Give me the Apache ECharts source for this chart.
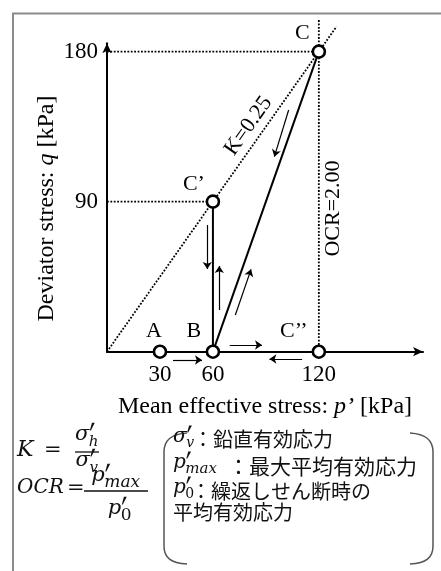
<!DOCTYPE html>
<html><head><meta charset="utf-8">
<script src="https://cdn.jsdelivr.net/npm/echarts@6/dist/echarts.min.js"></script>
<style>html,body{margin:0;padding:0;background:#fff}#c{width:441px;height:571px}</style>
</head><body><div id="c"></div>
<script>
// ---------------- data ----------------
const xTickValues = [30, 60, 120];
const yTickValues = [90, 180];
const pointNames = ['A', 'B', 'C\u2019\u2019', 'C\u2019', 'C'];
const pointP = [30, 60, 120, 60, 120];
const pointQ = [0, 0, 0, 90, 180];
const pathBCprimeP = [60, 60];
const pathBCprimeQ = [0, 90];
const pathBCP = [60, 120];
const pathBCQ = [0, 180];
const kLineP = [0, 130];
const kLineQ = [0, 195];
const ocrLineP = [120, 120];
const ocrLineQ = [0, 199];
const guide180P = [0, 120];
const guide180Q = [180, 180];
const guide90P = [0, 60];
const guide90Q = [90, 90];
const arrowFromP = [56.8, 63.6, 72.7, 102.9, 37.4, 69.5, 110.5];
const arrowFromQ = [76, 25, 22, 145, -5, 4, -4.4];
const arrowToP = [56.8, 63.6, 81.6, 94.8, 53.8, 87.8, 92];
const arrowToQ = [49.6, 51.4, 49.4, 117, -5, 4, -4.4];
const noteTexts = ['K=0.25', 'OCR=2.00'];
const noteP = [80.1, 128.2];
const noteQ = [135.4, 85.9];

// ---------------- styles ----------------
const SERIF = '"Liberation Serif", "Times New Roman", serif';
const MATH = '"DejaVu Serif", serif';
const CJK = '"Noto Sans CJK JP", sans-serif';
const labelOffsets = { 'A': [-6, -20], 'B': [-19, -20], 'C\u2019\u2019': [-25, -20], 'C\u2019': [-19, -17], 'C': [-16.5, -18.5] };
const noteRotate = [54.8, 90];
const dotted = { color: '#000', width: 1.8, type: [1.8, 1.6] };

const zip = (a, b) => a.map((v, i) => [v, b[i]]);

const chart = echarts.init(document.getElementById('c'), null, { renderer: 'canvas' });

// text measuring for the formula block
const mctx = document.createElement('canvas').getContext('2d');
function tw(text, font) { mctx.font = font; return mctx.measureText(text).width; }

function primeMark(xb, yTop, h) {
  const s = h * 0.4;
  return {
    type: 'polygon',
    shape: { points: [[xb + s - 1.4, yTop], [xb + s + 1.4, yTop], [xb + 0.5, yTop + h], [xb - 0.5, yTop + h]] },
    style: { fill: '#111', stroke: null }
  };
}
function mathVar(x, yMid, base, sup, sub, size, center, subScale) {
  const baseFont = `italic ${size}px ${MATH}`;
  const small = Math.round(size * (subScale || 0.72));
  const subFont = (/^[0-9]+$/.test(sub || '') ? '' : 'italic ') + `${small}px ${MATH}`;
  const bw = tw(base, baseFont);
  const w = bw + Math.max(sup ? size * 0.4 : 0, sub ? tw(sub, subFont) : 0);
  const x0 = center ? x - w / 2 : x;
  const els = [{ type: 'text', x: x0, y: yMid, style: { text: base, font: baseFont, fill: '#111', align: 'left', verticalAlign: 'middle' } }];
  if (sup) els.push(primeMark(x0 + bw + 1, yMid - size * 0.58, size * 0.36));
  if (sub) els.push({ type: 'text', x: x0 + bw - 0.5, y: yMid + size * 0.32, style: { text: sub, font: subFont, fill: '#111', align: 'left', verticalAlign: 'middle' } });
  return els;
}
function plain(x, yMid, text, font, align) {
  return { type: 'text', x: x, y: yMid, style: { text: text, font: font, fill: '#111', align: align || 'left', verticalAlign: 'middle' } };
}
function hline(x1, x2, y, w) {
  return { type: 'line', shape: { x1: x1, y1: y, x2: x2, y2: y }, style: { stroke: '#111', lineWidth: w || 1.3 } };
}
function paren(xEdge, xEnd, yTop, yBot) {
  const st = { stroke: '#555', lineWidth: 1.5, fill: null };
  const dir = xEnd > xEdge ? 1 : -1;
  return [
    { type: 'bezierCurve', shape: { x1: xEnd, y1: yTop, cpx1: xEdge + dir * 7, cpy1: yTop + 1, cpx2: xEdge, cpy2: yTop + 7, x2: xEdge, y2: yTop + 19 }, style: st },
    { type: 'line', shape: { x1: xEdge, y1: yTop + 19, x2: xEdge, y2: yBot - 18 }, style: st },
    { type: 'bezierCurve', shape: { x1: xEdge, y1: yBot - 18, cpx1: xEdge, cpy1: yBot - 6, cpx2: xEdge + dir * 7, cpy2: yBot - 1, x2: xEnd, y2: yBot }, style: st }
  ];
}

const formula = [].concat(
  // K = sigma'_h / sigma'_v
  [plain(17, 450, 'K', `italic 22px ${MATH}`)],
  [plain(44, 451, '=', `21px ${MATH}`)],
  mathVar(87, 435, '\u03C3', '\u2032', 'h', 21, true),
  [hline(75, 99, 452)],
  mathVar(87, 461, '\u03C3', '\u2032', 'v', 21, true),
  // OCR = p'max / p'0
  [plain(17, 488, 'OCR', `italic 20px ${MATH}`)],
  [plain(67, 489, '=', `21px ${MATH}`)],
  mathVar(116, 476, 'p', '\u2032', 'max', 21, true, 0.8),
  [hline(84, 148, 491)],
  mathVar(120, 509, 'p', '\u2032', '0', 21, true, 0.8),
  // bracket
  paren(164, 187, 433, 564),
  paren(433, 410, 433, 564),
  mathVar(173, 437, '\u03C3', '\u2032', 'v', 20, false),
  [plain(193, 439, '\uFF1A\u925B\u76F4\u6709\u52B9\u5FDC\u529B', `20px ${CJK}`)],
  mathVar(173, 463, 'p', '\u2032', 'max', 20, false, 0.76),
  [plain(228, 466, '\uFF1A\u6700\u5927\u5E73\u5747\u6709\u52B9\u5FDC\u529B', `21px ${CJK}`)],
  mathVar(173, 488, 'p', '\u2032', '0', 20, false),
  [plain(191, 491, '\uFF1A\u7E70\u8FD4\u3057\u305B\u3093\u65AD\u6642\u306E', `20px ${CJK}`)],
  [plain(173, 512, '\u5E73\u5747\u6709\u52B9\u5FDC\u529B', `20px ${CJK}`)],
  // frame
  [{ type: 'rect', shape: { x: 13, y: 13.5, width: 600, height: 700 }, style: { stroke: '#8c8c8c', lineWidth: 2, fill: null } }]
);

const arrowData = arrowFromP.map((p, i) => ({ coords: [[p, arrowFromQ[i]], [arrowToP[i], arrowToQ[i]]] }));

const option = {
  backgroundColor: '#fff',
  animation: false,
  grid: { left: 107, right: 18, top: 43.3, bottom: 219.3, containLabel: false, outerBoundsMode: 'none' },
  xAxis: {
    type: 'value', min: 0, max: 179,
    splitLine: { show: false },
    axisTick: { show: false },
    axisLine: { onZero: false, symbol: ['none', 'arrow'], symbolSize: [7, 10], lineStyle: { color: '#000', width: 2 } },
    axisLabel: { customValues: xTickValues, color: '#000', fontFamily: SERIF, fontSize: 23, margin: 12 },
    name: 'Mean effective stress: {i|p\u2019} [kPa]',
    nameLocation: 'middle', nameGap: 43, nameMoveOverlap: false,
    nameTextStyle: { color: '#000', fontFamily: SERIF, fontSize: 24, rich: { i: { fontStyle: 'italic', fontFamily: SERIF, fontSize: 24, color: '#000' } } }
  },
  yAxis: {
    type: 'value', min: 0, max: 185,
    splitLine: { show: false },
    axisTick: { show: false },
    axisLine: { onZero: false, symbol: ['none', 'arrow'], symbolSize: [7, 10], lineStyle: { color: '#000', width: 2 } },
    axisLabel: { customValues: yTickValues, color: '#000', fontFamily: SERIF, fontSize: 23, margin: 9 },
    name: 'Deviator stress: {i|q} [kPa]',
    nameLocation: 'middle', nameGap: 48, nameRotate: 90, nameMoveOverlap: false,
    nameTextStyle: { color: '#000', fontFamily: SERIF, fontSize: 24, padding: [0, 22, 0, 0], rich: { i: { fontStyle: 'italic', fontFamily: SERIF, fontSize: 24, color: '#000' } } }
  },
  series: [
    { type: 'line', name: 'K line', data: zip(kLineP, kLineQ), showSymbol: false, clip: false, lineStyle: dotted, z: 2 },
    { type: 'line', name: 'OCR line', data: zip(ocrLineP, ocrLineQ), showSymbol: false, clip: false, lineStyle: dotted, z: 2 },
    { type: 'line', name: 'guide180', data: zip(guide180P, guide180Q), showSymbol: false, clip: false, lineStyle: dotted, z: 2 },
    { type: 'line', name: 'guide90', data: zip(guide90P, guide90Q), showSymbol: false, clip: false, lineStyle: dotted, z: 2 },
    { type: 'line', name: 'B-C\u2019', data: zip(pathBCprimeP, pathBCprimeQ), showSymbol: false, clip: false, lineStyle: { color: '#000', width: 2 }, z: 3 },
    { type: 'line', name: 'B-C', data: zip(pathBCP, pathBCQ), showSymbol: false, clip: false, lineStyle: { color: '#000', width: 2 }, z: 3 },
    {
      type: 'lines', coordinateSystem: 'cartesian2d', clip: false, z: 4,
      symbol: ['none', 'arrow'], symbolSize: 7,
      lineStyle: { color: '#000', width: 1.2, opacity: 1 },
      data: arrowData
    },
    {
      type: 'scatter', name: 'points', z: 5, clip: false,
      symbol: 'circle', symbolSize: 12,
      itemStyle: { color: '#fff', borderColor: '#000', borderWidth: 2.6, opacity: 1 },
      data: pointP.map((p, i) => ({
        value: [p, pointQ[i]], name: pointNames[i],
        label: { offset: labelOffsets[pointNames[i]] }
      })),
      label: { show: true, position: 'inside', formatter: '{b}', color: '#000', fontFamily: SERIF, fontSize: 22, align: 'center', verticalAlign: 'middle' }
    }
  ]
};
chart.setOption(option);

// rotated annotations anchored at data coordinates through the grid's own scales
const notes = noteTexts.map((t, i) => {
  const px = chart.convertToPixel({ gridIndex: 0 }, [noteP[i], noteQ[i]]);
  return {
    type: 'text', x: px[0], y: px[1], rotation: noteRotate[i] * Math.PI / 180,
    style: { text: t, font: `22px ${SERIF}`, fill: '#000', align: 'center', verticalAlign: 'middle' }, z: 10
  };
});
chart.setOption({ graphic: { elements: formula.concat(notes) } });
</script>
</body></html>
